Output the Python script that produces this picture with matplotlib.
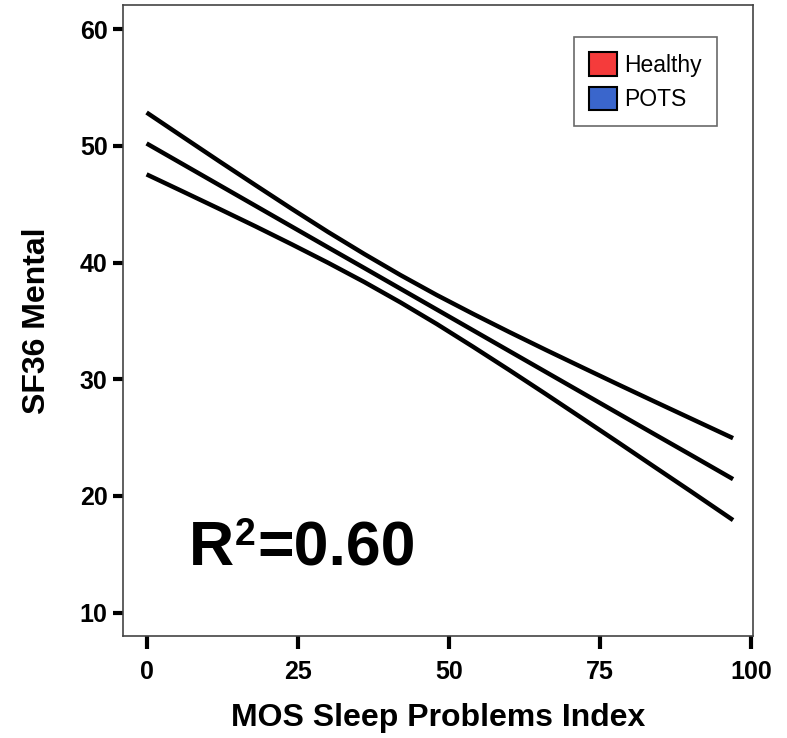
import matplotlib
matplotlib.use("Agg")
import matplotlib.pyplot as plt
from matplotlib.patches import Patch

# Data
sleep_index = [0, 6, 12, 18, 24, 30, 36, 42, 48, 54, 60, 66, 72, 78, 84, 90, 97]
fit_line    = [50.20, 48.42, 46.64, 44.86, 43.08, 41.30, 39.53, 37.75, 35.97,
               34.19, 32.41, 30.63, 28.85, 27.07, 25.29, 23.52, 21.44]
ci_upper    = [52.85, 50.76, 48.68, 46.63, 44.60, 42.62, 40.73, 38.92, 37.21,
               35.60, 34.04, 32.52, 31.03, 29.55, 28.09, 26.64, 24.95]
ci_lower    = [47.55, 46.08, 44.60, 43.10, 41.56, 39.98, 38.33, 36.58, 34.73,
               32.78, 30.78, 28.74, 26.67, 24.59, 22.49, 20.40, 17.93]
x_ticks = [0, 25, 50, 75, 100]
y_ticks = [10, 20, 30, 40, 50, 60]
legend_labels = ["Healthy", "POTS"]
legend_colors = ["#f53b3b", "#3a66cc"]

plt.rcParams['font.family'] = ['Liberation Sans', 'DejaVu Sans']

fig = plt.figure(figsize=(7.87, 7.38), dpi=100)
ax = fig.add_axes([0.1563, 0.1382, 0.8005, 0.855])

for ys in (ci_upper, fit_line, ci_lower):
    ax.plot(sleep_index, ys, color='black', lw=3.2, solid_capstyle='butt')

ax.set_xlim(-3.9, 100.3)
ax.set_ylim(8.0, 62.06)
ax.set_xticks(x_ticks)
ax.set_yticks(y_ticks)
ax.tick_params(axis='x', length=9, width=3, pad=8, labelsize=18, color='black')
ax.tick_params(axis='y', length=7.5, width=3, pad=3.5, labelsize=18, color='black')
for lab in ax.get_xticklabels() + ax.get_yticklabels():
    lab.set_fontweight('bold')

for sp in ax.spines.values():
    sp.set_color('#444444')
    sp.set_linewidth(1.2)

ax.set_xlabel("MOS Sleep Problems Index", fontsize=23, fontweight='bold', labelpad=14)
ax.set_ylabel("SF36 Mental", fontsize=23, fontweight='bold', labelpad=20)

# R^2 annotation built from pieces so the superscript matches the original
r_txt = ax.text(0.105, 0.112, "R", transform=ax.transAxes,
                fontsize=45, fontweight='bold', ha='left', va='baseline')
two_txt = ax.annotate("2", xy=(1, 1), xycoords=r_txt, xytext=(0, 2),
                      textcoords='offset points', fontsize=27, fontweight='bold',
                      ha='left', va='top')
ax.annotate("=0.60", xy=(1, 0), xycoords=(two_txt, r_txt), xytext=(1.5, 0),
            textcoords='offset points', fontsize=45, fontweight='bold',
            ha='left', va='bottom')

handles = [Patch(facecolor=c, edgecolor='black', lw=1.5, label=l)
           for c, l in zip(legend_colors, legend_labels)]
leg = ax.legend(handles=handles, loc='upper right', bbox_to_anchor=(0.943, 0.949),
                borderaxespad=0, fontsize=16.5, frameon=True, fancybox=False,
                handlelength=1.2, handleheight=1.2, handletextpad=0.35,
                labelspacing=0.45, borderpad=0.65)
leg.get_frame().set_edgecolor('#444444')
leg.get_frame().set_linewidth(1.2)

fig.savefig("out.png", dpi=100)
